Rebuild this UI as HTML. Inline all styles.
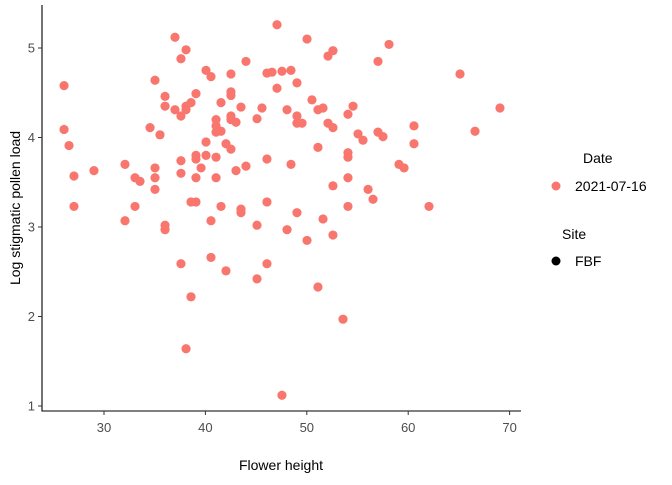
<!DOCTYPE html>
<html><head><meta charset="utf-8"><style>
body{margin:0;background:#fff;}
svg text{font-family:"Liberation Sans",Arial,sans-serif;}
</style></head><body>
<svg id="chart" width="672" height="480" viewBox="0 0 672 480">
<g id="points"></g>
<line x1="42" y1="5" x2="42" y2="411.5" stroke="#000" stroke-width="1.1"/>
<line x1="41.5" y1="411" x2="521" y2="411" stroke="#000" stroke-width="1.1"/>
<g id="xticks"></g>
<g id="yticks"></g>
<text x="281" y="470" font-size="14" text-anchor="middle" fill="#000">Flower height</text>
<text transform="translate(20,208) rotate(-90)" font-size="14" text-anchor="middle" fill="#000">Log stigmatic pollen load</text>
<g>
<text x="583" y="163" font-size="14" fill="#000">Date</text>
<circle cx="556" cy="186" r="4.5" fill="#F8766D"/>
<text x="575" y="191" font-size="14" fill="#000">2021-07-16</text>
</g>
<g>
<text x="562" y="239" font-size="14" fill="#000">Site</text>
<circle cx="556" cy="261" r="4.5" fill="#000"/>
<text x="575" y="266" font-size="14" fill="#000">FBF</text>
</g>
</svg>
<script>
const xTicks=[30,40,50,60,70];
const yTicks=[1,2,3,4,5];
const heights=[47.06,37.0,38.09,37.59,44.0,40.06,40.55,42.52,46.07,46.57,47.55,48.44,35.03,26.06,47.06,36.02,39.07,42.52,42.52,36.02,38.09,38.58,37.0,38.09,37.59,41.54,43.51,45.58,48.05,45.09,42.52,42.52,43.02,41.05,41.05,41.05,41.54,34.54,35.52,26.06,26.55,40.06,42.03,42.52,39.07,39.07,40.06,41.05,46.07,32.07,37.59,48.44,35.03,39.57,44.0,43.02,27.04,29.01,33.06,33.55,35.03,37.59,39.07,41.05,35.03,27.04,33.06,38.58,39.07,41.54,43.51,43.51,46.07,32.07,40.55,50.02,58.11,52.58,52.09,57.02,65.11,49.03,50.51,49.03,49.03,49.53,51.10,51.60,54.56,54.06,52.09,52.58,55.05,55.54,57.02,57.51,60.57,69.05,66.59,60.57,51.10,54.06,54.06,59.09,59.59,54.06,52.58,56.04,56.53,54.06,62.05,49.03,51.60,36.02,36.02,45.09,48.05,50.02,52.58,37.59,40.55,42.03,46.07,45.09,51.10,38.58,53.57,38.09,47.55];
const loads=[5.26,5.12,4.98,4.88,4.85,4.75,4.68,4.71,4.72,4.73,4.74,4.75,4.64,4.58,4.55,4.46,4.49,4.51,4.47,4.35,4.35,4.39,4.31,4.31,4.24,4.39,4.34,4.33,4.31,4.21,4.24,4.20,4.17,4.20,4.13,4.06,4.07,4.11,4.03,4.09,3.91,3.95,3.93,3.87,3.80,3.76,3.80,3.78,3.76,3.70,3.74,3.70,3.66,3.66,3.68,3.63,3.57,3.63,3.55,3.51,3.55,3.60,3.55,3.55,3.42,3.23,3.23,3.28,3.28,3.23,3.20,3.16,3.28,3.07,3.07,5.10,5.04,4.97,4.91,4.85,4.71,4.61,4.42,4.24,4.16,4.16,4.31,4.33,4.35,4.26,4.16,4.11,4.04,3.97,4.06,4.01,4.13,4.33,4.07,3.93,3.89,3.83,3.78,3.70,3.66,3.55,3.46,3.42,3.31,3.23,3.23,3.16,3.09,3.02,2.97,3.02,2.97,2.85,2.91,2.59,2.66,2.51,2.59,2.42,2.33,2.22,1.97,1.64,1.12];
const NS='http://www.w3.org/2000/svg';
function xs(v){return 104+(v-30)*10.14;}
function ys(v){return 48+(5-v)*89.5;}
const pg=document.getElementById('points');
for(let i=0;i<heights.length;i++){
  const c=document.createElementNS(NS,'circle');
  c.setAttribute('cx',xs(heights[i]));c.setAttribute('cy',ys(loads[i]));c.setAttribute('r',4.6);c.setAttribute('fill','#F8766D');
  
  
  pg.appendChild(c);
}
const xg=document.getElementById('xticks');
xTicks.forEach(t=>{
  const l=document.createElementNS(NS,'line');
  l.setAttribute('x1',xs(t));l.setAttribute('x2',xs(t));l.setAttribute('y1',411);l.setAttribute('y2',415);l.setAttribute('stroke','#333');
  
  
  xg.appendChild(l);
  const tx=document.createElementNS(NS,'text');
  tx.setAttribute('x',xs(t));tx.setAttribute('y',432);tx.setAttribute('font-size','13');tx.setAttribute('text-anchor','middle');tx.setAttribute('fill','#4d4d4d');
  tx.textContent=t;
  
  
  xg.appendChild(tx);
});
const yg=document.getElementById('yticks');
yTicks.forEach(t=>{
  const l=document.createElementNS(NS,'line');
  l.setAttribute('x1',38);l.setAttribute('x2',42);l.setAttribute('y1',ys(t));l.setAttribute('y2',ys(t));l.setAttribute('stroke','#333');
  
  
  yg.appendChild(l);
  const tx=document.createElementNS(NS,'text');
  tx.setAttribute('x',35);tx.setAttribute('y',ys(t)+4.5);tx.setAttribute('font-size','13');tx.setAttribute('text-anchor','end');tx.setAttribute('fill','#4d4d4d');
  tx.textContent=t;
  
  
  yg.appendChild(tx);
});
</script>
</body></html>
